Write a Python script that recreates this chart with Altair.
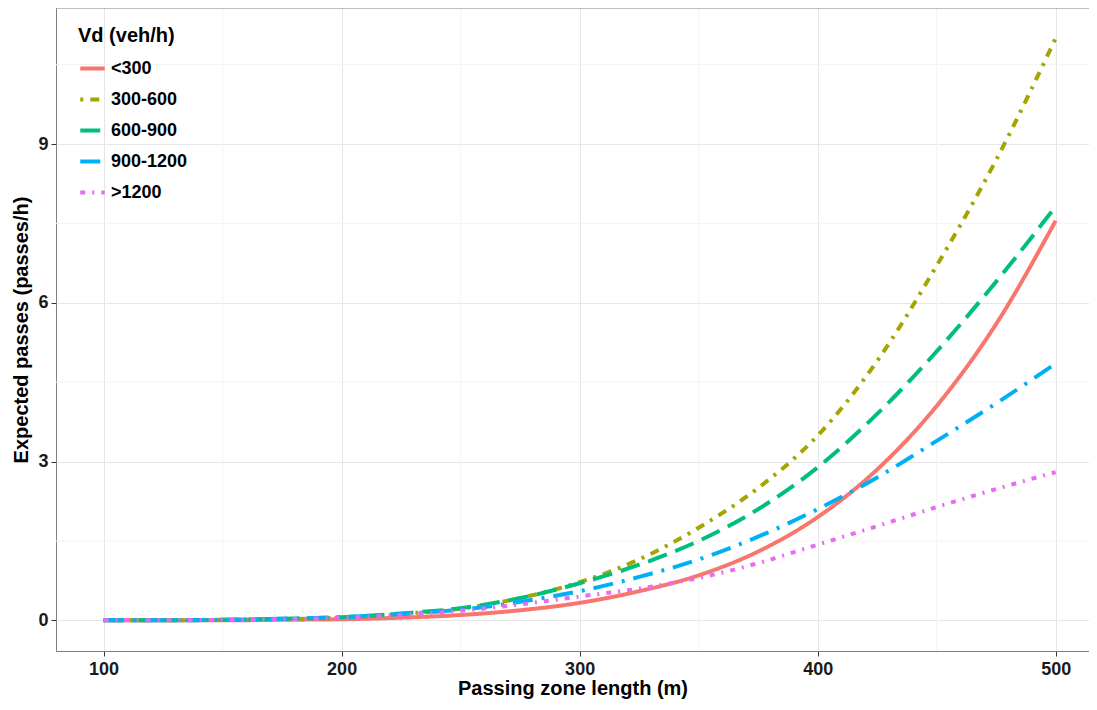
import altair as alt
import pandas as pd

x_vals = [100, 125, 150, 175, 200, 225, 250, 275, 300, 325, 350, 375, 400, 425, 450, 475, 500]
s_lt300 = [0, 0, 0, 0.01, 0.02, 0.05, 0.10, 0.19, 0.33, 0.55, 0.85, 1.30, 1.95, 2.85, 4.05, 5.60, 7.55]
s_300_600 = [0, 0, 0.01, 0.02, 0.05, 0.12, 0.22, 0.42, 0.72, 1.15, 1.75, 2.50, 3.49, 4.90, 6.70, 8.70, 11.0]
s_600_900 = [0, 0, 0.01, 0.03, 0.06, 0.13, 0.23, 0.42, 0.70, 1.05, 1.50, 2.10, 2.89, 3.90, 5.08, 6.40, 7.82]
s_900_1200 = [0, 0, 0.01, 0.03, 0.06, 0.12, 0.20, 0.35, 0.55, 0.82, 1.15, 1.58, 2.10, 2.70, 3.39, 4.10, 4.85]
s_gt1200 = [0, 0, 0.01, 0.02, 0.05, 0.10, 0.18, 0.30, 0.45, 0.60, 0.80, 1.08, 1.43, 1.78, 2.14, 2.48, 2.80]

groups = ["<300", "300-600", "600-900", "900-1200", ">1200"]
series = [s_lt300, s_300_600, s_600_900, s_900_1200, s_gt1200]
colors = ["#F8766D", "#A3A500", "#00BF7D", "#00B0F6", "#E76BF3"]
dashes = [[1, 0], [3, 7, 9, 7], [20, 9], [20, 9, 3, 9], [5, 7, 2, 7]]

x_major = [100, 200, 300, 400, 500]
x_minor = [150, 250, 350, 450]
y_major = [0, 3, 6, 9]
y_minor = [1.5, 4.5, 7.5, 10.5]

rows = []
for g, s in zip(groups, series):
    for i, (xv, yv) in enumerate(zip(x_vals, s)):
        rows.append({"x": xv, "y": yv, "Vd": g, "order": i})
df = pd.DataFrame(rows)

W, H = 1033, 643
xscale = alt.Scale(domain=[80, 514], nice=False, zero=False)
yscale = alt.Scale(domain=[-0.58, 11.57], nice=False, zero=False)
FONT = "Liberation Sans"

minor_x = alt.Chart(pd.DataFrame({"v": x_minor})).mark_rule(color="#F4F4F4", strokeWidth=1).encode(
    x=alt.X("v:Q", scale=xscale)
)
minor_y = alt.Chart(pd.DataFrame({"v": y_minor})).mark_rule(color="#F4F4F4", strokeWidth=1).encode(
    y=alt.Y("v:Q", scale=yscale)
)
top_border = alt.Chart(pd.DataFrame({"a": [0]})).mark_rule(color="#7F7F7F", strokeWidth=1).encode(
    y=alt.value(0), x=alt.value(0), x2=alt.value(W)
)

lines = alt.Chart(df).mark_line(strokeWidth=4, interpolate="monotone", strokeCap="butt").encode(
    x=alt.X("x:Q", scale=xscale, title="Passing zone length (m)",
            axis=alt.Axis(values=x_major, grid=True)),
    y=alt.Y("y:Q", scale=yscale, title="Expected passes (passes/h)",
            axis=alt.Axis(values=y_major, grid=True)),
    color=alt.Color("Vd:N", scale=alt.Scale(domain=groups, range=colors),
                    legend=alt.Legend(title="Vd (veh/h)", orient="none", legendX=18, legendY=14,
                                      symbolType="stroke", symbolSize=600, symbolStrokeWidth=4,
                                      labelFontSize=18, titleFontSize=20, labelFont=FONT, titleFont=FONT,
                                      labelFontWeight="bold", titleFontWeight="bold", labelColor="#000000",
                                      titleColor="#000000", rowPadding=7, titlePadding=8,
                                      labelOffset=4, padding=4)),
    strokeDash=alt.StrokeDash("Vd:N", scale=alt.Scale(domain=groups, range=dashes), legend=None),
    order="order:Q",
    detail="Vd:N",
)

chart = alt.layer(minor_x, minor_y, lines, top_border).properties(
    width=W, height=H,
    autosize=alt.AutoSizeParams(type="none"),
    padding={"left": 48, "top": 0, "right": 0, "bottom": 51},
).configure_view(stroke=None).configure_axis(
    labelFont=FONT, titleFont=FONT, labelFontSize=18, titleFontSize=20,
    labelFontWeight="bold", titleFontWeight="bold", labelColor="#1A1A1A", titleColor="#000000",
    gridColor="#E6E6E6", gridWidth=1, domainColor="#7F7F7F", tickColor="#333333",
    tickSize=5, domain=True
).configure_axisX(titlePadding=0, labelPadding=4).configure_axisY(titlePadding=6, labelPadding=3)

chart.save("out.html", embed_options={"renderer": "svg", "actions": False})
